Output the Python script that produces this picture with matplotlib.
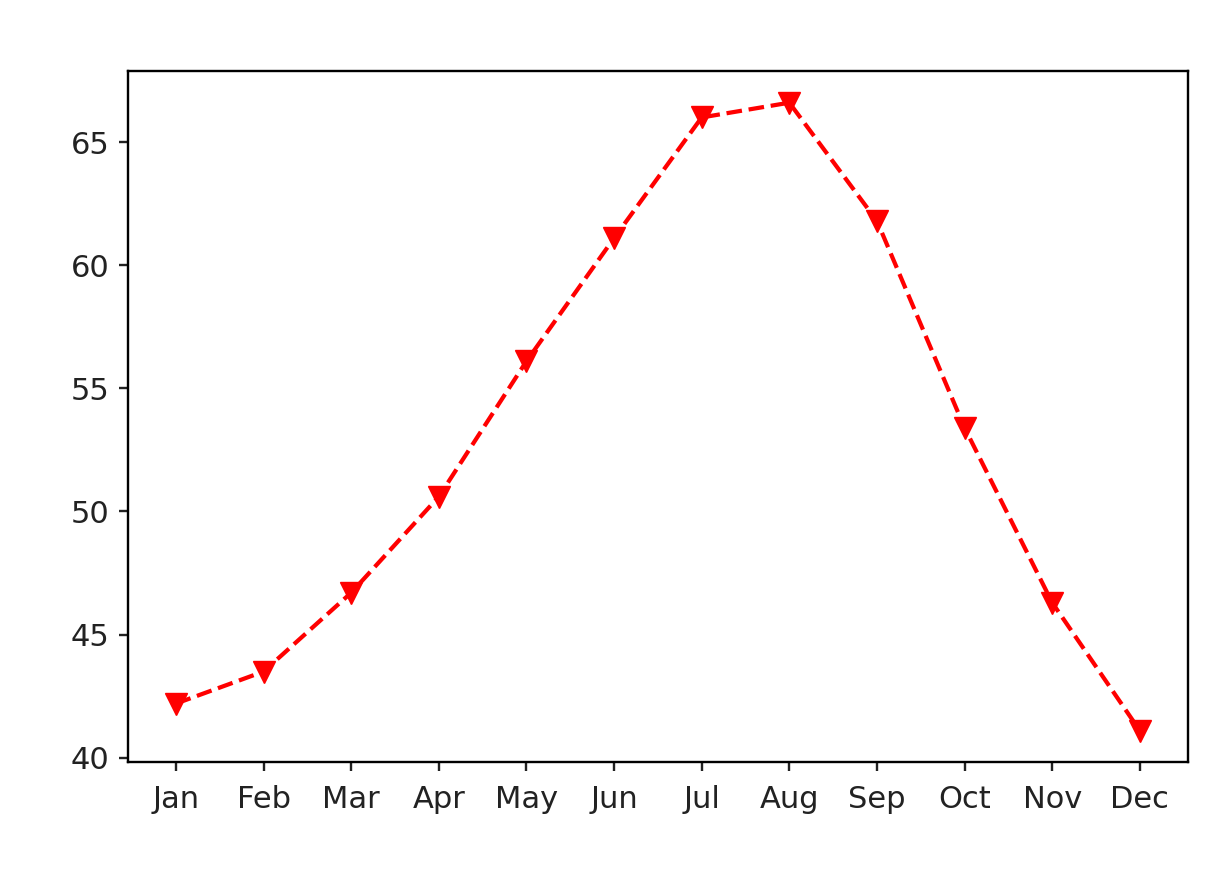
import matplotlib
matplotlib.use('Agg')
import matplotlib.pyplot as plt

# 月份与对应数值
months = ['Jan', 'Feb', 'Mar', 'Apr', 'May', 'Jun',
          'Jul', 'Aug', 'Sep', 'Oct', 'Nov', 'Dec']
temps = [42.2, 43.5, 46.7, 50.6, 56.1, 61.1,
         66.0, 66.6, 61.8, 53.4, 46.3, 41.1]

scale = 1.9  # 原图按 640x480 放大
plt.rcParams['font.size'] = 22

fig = plt.figure(figsize=(12.16, 8.8), dpi=100)
ax = fig.add_axes([0.105, 0.134, 0.872, 0.785])

ax.plot(months, temps, color='red', linestyle='--', marker='v',
        linewidth=1.6 * scale, markersize=16.5)

ax.set_yticks([40, 45, 50, 55, 60, 65])
for spine in ax.spines.values():
    spine.set_linewidth(0.9 * scale)
ax.tick_params(width=0.9 * scale, length=3.5 * scale, colors='#222222')
ax.tick_params(axis='x', pad=5 * scale)
ax.tick_params(axis='y', pad=3.5 * scale)

fig.savefig('out.png', dpi=100)
